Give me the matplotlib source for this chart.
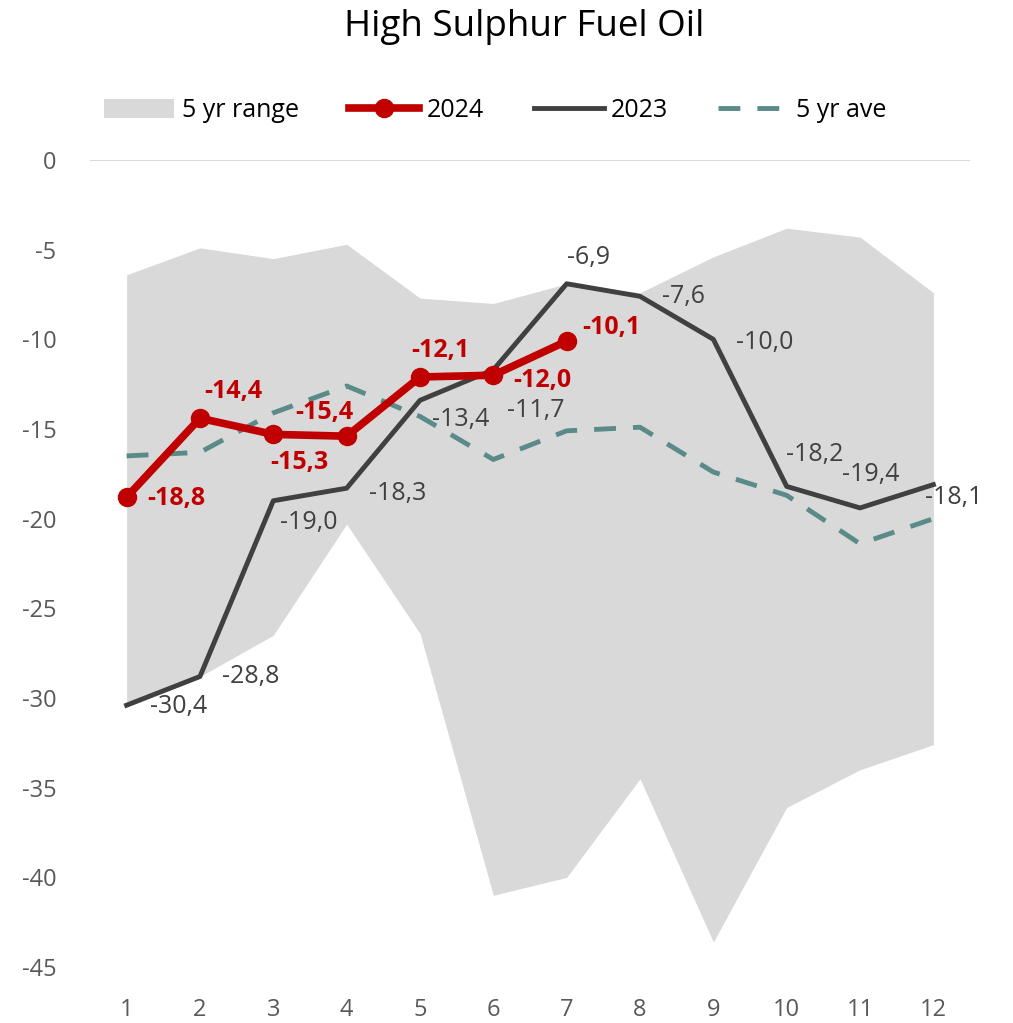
import matplotlib
matplotlib.use("Agg")
import matplotlib.pyplot as plt
from matplotlib.patches import Patch
from matplotlib.lines import Line2D

plt.rcParams['font.family'] = ['Open Sans', 'DejaVu Sans']
plt.rcParams['axes.unicode_minus'] = False

months = list(range(1, 13))
range_low = [-30.4, -28.8, -26.5, -20.3, -26.4, -41.0, -40.0, -34.5, -43.6, -36.1, -34.0, -32.6]
range_high = [-6.4, -4.9, -5.5, -4.7, -7.7, -8.0, -6.9, -7.4, -5.4, -3.8, -4.3, -7.4]
ave_5yr = [-16.5, -16.3, -14.1, -12.6, -14.3, -16.7, -15.1, -14.9, -17.4, -18.7, -21.4, -20.0]
y2023 = [-30.4, -28.8, -19.0, -18.3, -13.4, -11.7, -6.9, -7.6, -10.0, -18.2, -19.4, -18.1]
y2024 = [-18.8, -14.4, -15.3, -15.4, -12.1, -12.0, -10.1]

# label offsets in points (dx, dy) and alignment per point
off_2023 = [(17, -1, 'left'), (16, 0, 'left'), (5, -16, 'left'), (16, -4, 'left'),
            (9, -14, 'left'), (10, -29, 'left'), (16, 19, 'center'), (16, 0, 'left'),
            (16, -2, 'left'), (20, 23, 'center'), (8, 24, 'center'), (-6, -9, 'left')]
off_2024 = [(15, -1, 'left'), (24, 19, 'center'), (19, -20, 'center'), (-16, 17, 'center'),
            (15, 19, 'center'), (14, -4, 'left'), (11, 10, 'left')]

RED = '#C00000'
DARK = '#404040'
TEAL = '#5B8B89'
GREY = '#D9D9D9'
TXT = '#595959'

fig = plt.figure(figsize=(10.13, 10.23), dpi=100)
ax = fig.add_axes([0.0888, 0.0547, 0.8688, 0.7889])

ax.fill_between(months, range_low, range_high, color=GREY, lw=0, zorder=1)
ax.axhline(0, color=GREY, lw=1.5, zorder=1)
ax.plot(months, ave_5yr, color=TEAL, lw=3.5, dashes=(4.5, 3.5), zorder=2)
ax.plot(months, y2023, color=DARK, lw=3.5, zorder=3)
ax.plot(months[:len(y2024)], y2024, color=RED, lw=5.5, marker='o', ms=13, zorder=4)

for m, v, (dx, dy, ha) in zip(months, y2023, off_2023):
    ax.annotate(f"{v:.1f}".replace('.', ','), (m, v), xytext=(dx, dy),
                textcoords='offset points', ha=ha, va='center',
                fontsize=18, color=DARK, zorder=5)
for m, v, (dx, dy, ha) in zip(months, y2024, off_2024):
    ax.annotate(f"{v:.1f}".replace('.', ','), (m, v), xytext=(dx, dy),
                textcoords='offset points', ha=ha, va='center',
                fontsize=18, color=RED, fontweight='bold', zorder=5)

ax.set_xlim(0.5, 12.5)
ax.set_ylim(-45, 0)
ax.set_xticks(months)
ax.set_yticks(range(-45, 1, 5))
ax.tick_params(axis='both', length=0, labelsize=17, colors=TXT)
ax.tick_params(axis='y', pad=24)
ax.tick_params(axis='x', pad=22)
for s in ax.spines.values():
    s.set_visible(False)

fig.text(0.517, 0.974, "High Sulphur Fuel Oil", ha='center', va='center',
         fontsize=26.5, color='black')

handles = [Patch(facecolor=GREY, edgecolor='none'),
           Line2D([], [], color=RED, lw=5.5, marker='o', ms=13),
           Line2D([], [], color=DARK, lw=3.5),
           Line2D([], [], color=TEAL, lw=3.5, dashes=(4.5, 3.5))]
labels = ['5 yr range', '2024', '2023', '5 yr ave']
fig.legend(handles, labels, loc='center', bbox_to_anchor=(0.489, 0.892), ncol=4,
           frameon=False, fontsize=18, handlelength=2.8, handleheight=0.8,
           columnspacing=2.0, handletextpad=0.3)

fig.savefig("out.png", dpi=100)
